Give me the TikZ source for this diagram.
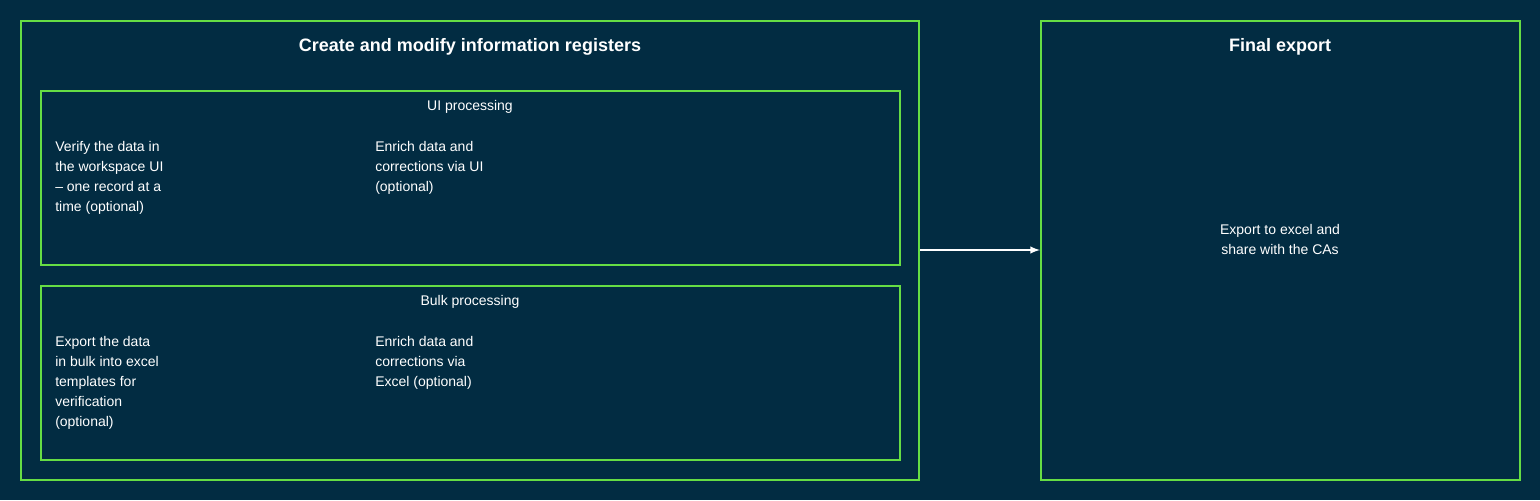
\documentclass[tikz,border=0pt]{standalone}
\usepackage{fontspec}
\setmainfont{Liberation Sans}
\begin{document}
\begin{tikzpicture}[x=0.75pt,y=-0.75pt,
  box/.style={draw=grn,line width=1.5pt},
  txt/.style={text=white,font=\fontsize{10.5}{15}\selectfont,align=left,anchor=north west,inner sep=0pt},
  ctxt/.style={text=white,font=\fontsize{10.5}{15}\selectfont,align=center,inner sep=0pt},
  ttl/.style={text=white,font=\fontsize{13.5}{16}\selectfont\bfseries,inner sep=0pt}]
\definecolor{bg}{HTML}{022C42}
\definecolor{grn}{HTML}{66DD44}
\fill[bg] (0,0) rectangle (1540,500);
\useasboundingbox (0,0) rectangle (1540,500);
\draw[box] (21,21) rectangle (919,480);
\node[ttl] (t1) at (470,47) {Create and modify information registers};
\draw[box] (41,91) rectangle (900,265);
\node[ctxt] (u) at (470,107) {UI processing};
\node[txt] (u1) at (55,141) {Verify the data in\\the workspace UI\\– one record at a\\time (optional)};
\node[txt] (u2) at (375,141) {Enrich data and\\corrections via UI\\(optional)};
\draw[box] (41,286) rectangle (900,460);
\node[ctxt] (b) at (470,302) {Bulk processing};
\node[txt] (b1) at (55,336) {Export the data\\in bulk into excel\\templates for\\verification\\(optional)};
\node[txt] (b2) at (375,336) {Enrich data and\\corrections via\\Excel (optional)};
\draw[box] (1041,21) rectangle (1520,480);
\node[ttl] (t2) at (1280,47) {Final export};
\node[ctxt] (e) at (1280,239) {Export to excel and\\share with the CAs};
\coordinate (a1) at (920,250);
\coordinate (a2) at (1040,250);
\draw[white,line width=1.5pt,-latex] (a1) -- (a2);
\end{tikzpicture}
\end{document}
